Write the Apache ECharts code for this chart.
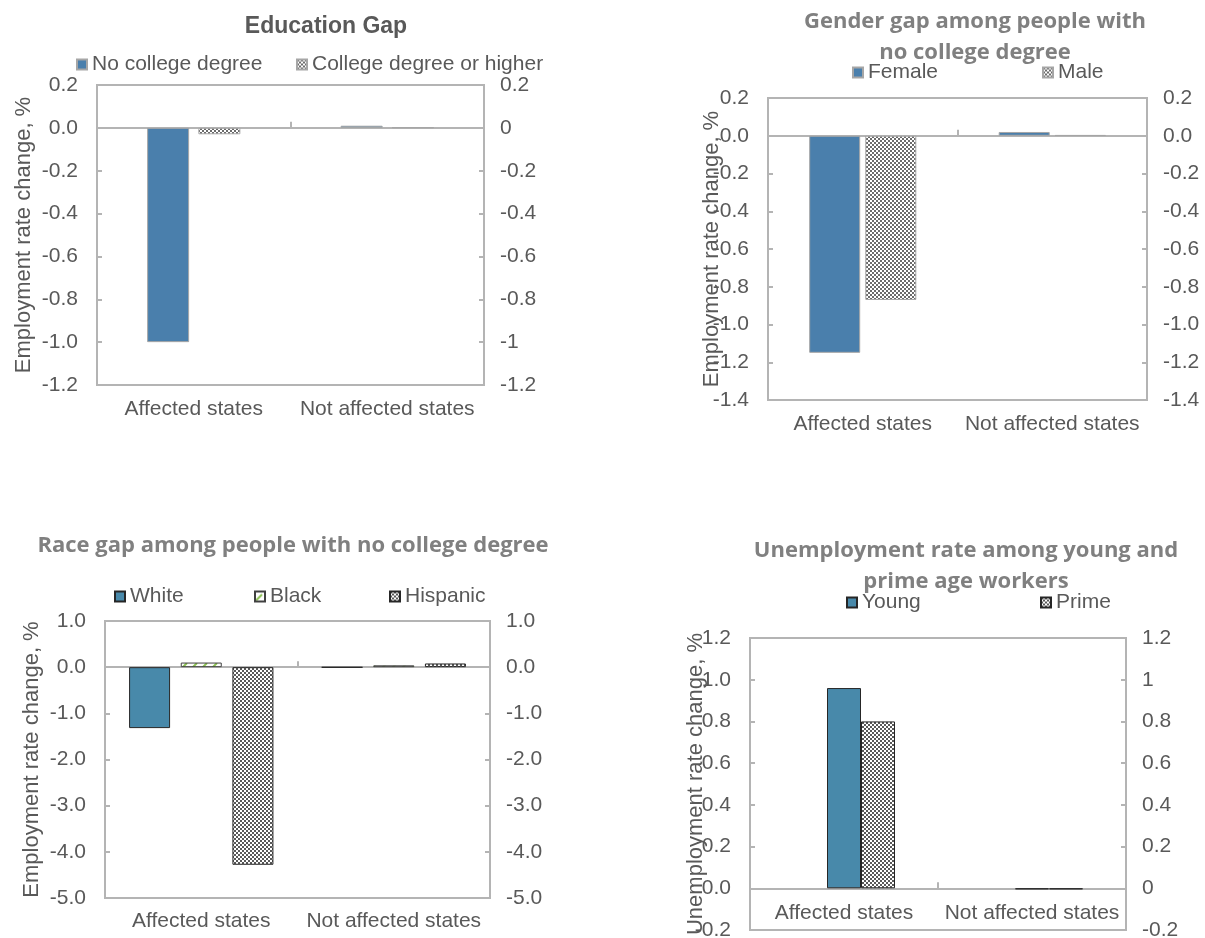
<!DOCTYPE html>
<html>
<head>
<meta charset="utf-8">
<script src="https://cdn.jsdelivr.net/npm/echarts@6/dist/echarts.min.js"></script>
<style>
  html, body { margin: 0; padding: 0; background: #ffffff; }
  #chart { width: 1205px; height: 938px; }
</style>
</head>
<body>
<div id="chart"></div>
<script>
// ---- data ----
const categories = ['Affected states', 'Not affected states'];

// Education gap: employment rate change, %
const noCollege = [-1.0, 0.01];
const collegePlus = [-0.03, 0.002];

// Gender gap among people with no college degree
const female = [-1.15, 0.02];
const male = [-0.87, 0.003];

// Race gap among people with no college degree
const white = [-1.32, -0.005];
const black = [0.1, 0.04];
const hispanic = [-4.28, 0.08];

// Unemployment rate change among young and prime age workers
const young = [0.96, -0.005];
const prime = [0.80, -0.005];

// value axis ranges: [min, max, interval]
const eduRange = [-1.2, 0.2, 0.2];
const genderRange = [-1.4, 0.2, 0.2];
const raceRange = [-5, 1, 1];
const unempRange = [-0.2, 1.2, 0.2];

// ---- styling helpers ----
const TEXT = '#595959';
const FRAME = '#b4b4b4';
const FONT = 'Liberation Sans';
const FS = 21;
const BLUE = '#4a7fac';
const TEAL = '#4889aa';

function checker(fg) {
  const c = document.createElement('canvas');
  c.width = 4; c.height = 4;
  const g = c.getContext('2d');
  g.fillStyle = '#ffffff'; g.fillRect(0, 0, 4, 4);
  g.fillStyle = fg;
  g.fillRect(0, 0, 2, 2); g.fillRect(2, 2, 2, 2);
  return { image: c, repeat: 'repeat' };
}
function diagonal(fg) {
  const s = 10;
  const c = document.createElement('canvas');
  c.width = s; c.height = s;
  const g = c.getContext('2d');
  g.fillStyle = '#ffffff'; g.fillRect(0, 0, s, s);
  g.strokeStyle = fg; g.lineWidth = 2;
  g.beginPath();
  g.moveTo(1, s - 1); g.lineTo(s - 3, 3);
  g.stroke();
  return { image: c, repeat: 'repeat' };
}

const fix1 = v => v.toFixed(1);
const plain = v => String(Math.round(v * 10) / 10);

function yPair(grid, range, leftFmt, rightFmt, name, nameGap) {
  const base = {
    type: 'value', gridIndex: grid,
    min: range[0], max: range[1], interval: range[2],
    axisLine: { show: false },
    axisTick: { show: true, inside: true, length: 5, lineStyle: { color: FRAME, width: 2 } },
    splitLine: { show: false }
  };
  return [
    Object.assign({}, base, {
      position: 'left',
      axisLabel: { formatter: leftFmt, margin: 19, color: TEXT, fontSize: FS, fontFamily: FONT },
      name: name, nameLocation: 'middle', nameGap: nameGap, nameRotate: 90,
      nameMoveOverlap: false,
      nameTextStyle: { color: TEXT, fontSize: 22, fontFamily: FONT }
    }),
    Object.assign({}, base, {
      position: 'right',
      axisLabel: { formatter: rightFmt, margin: 16, color: TEXT, fontSize: FS, fontFamily: FONT }
    })
  ];
}

// category axis drawn along the zero value (line + middle tick only)
function zeroAxis(grid, yIndex) {
  return {
    type: 'category', gridIndex: grid, data: categories, position: 'bottom',
    axisLine: { show: true, onZero: true, onZeroAxisIndex: yIndex, lineStyle: { color: FRAME, width: 2 } },
    axisTick: { show: true, inside: true, length: 6, lineStyle: { color: FRAME, width: 2 } },
    axisLabel: { show: false },
    splitLine: { show: false }
  };
}
// category labels only, optionally lifted up by `offset` pixels
function labelAxis(grid, margin, offset) {
  return {
    type: 'category', gridIndex: grid, data: categories, position: 'bottom',
    offset: offset || 0,
    axisLine: { show: false, onZero: false },
    axisTick: { show: false },
    axisLabel: { interval: 0, hideOverlap: false, margin: margin, color: TEXT, fontSize: FS, fontFamily: FONT },
    splitLine: { show: false }
  };
}

function bar(name, data, xi, yi, color, border, width, gap) {
  return {
    type: 'bar', name: name, data: data, xAxisIndex: xi, yAxisIndex: yi,
    barWidth: width, barGap: gap,
    itemStyle: { color: color, borderColor: border, borderWidth: 1 },
    emphasis: { disabled: true }
  };
}

function legendItem(name, left, top) {
  return {
    data: [name], left: left, top: top, padding: 0,
    icon: 'rect', itemWidth: 10, itemHeight: 10,
    textStyle: { color: TEXT, fontSize: FS, fontFamily: FONT }
  };
}

const grids = [
  [97, 85, 387, 300],
  [768, 98, 379, 302],
  [105, 621, 385, 277],
  [750, 638, 376, 292]
];
function plotGrid(g) {
  return {
    left: g[0], top: g[1], width: g[2], height: g[3],
    outerBoundsMode: 'none',
    show: true, borderColor: FRAME, borderWidth: 2, backgroundColor: '#ffffff'
  };
}
// distance of the zero line above the bottom of a plot
function zeroLift(g, range) {
  return -g[3] * (0 - range[0]) / (range[1] - range[0]);
}

const subTitle = { color: '#808080', fontSize: 22, fontWeight: 'bold', fontFamily: 'Open Sans', lineHeight: 31 };

const option = {
  animation: false,
  backgroundColor: '#ffffff',
  title: [
    { text: 'Education Gap', left: 326, top: 15, textAlign: 'center', padding: 0,
      textStyle: { color: TEXT, fontSize: 23, fontWeight: 'bold', fontFamily: FONT, lineHeight: 24 } },
    { text: 'Gender gap among people with\nno college degree', left: 975, top: 6, textAlign: 'center', padding: 0, textStyle: subTitle },
    { text: 'Race gap among people with no college degree', left: 293, top: 530, textAlign: 'center', padding: 0, textStyle: subTitle },
    { text: 'Unemployment rate among young and\nprime age workers', left: 966, top: 535, textAlign: 'center', padding: 0, textStyle: subTitle }
  ],
  legend: [
    legendItem('No college degree', 76, 54),
    legendItem('College degree or higher', 296, 54),
    legendItem('Female', 852, 62),
    legendItem('Male', 1042, 62),
    legendItem('White', 114, 586),
    legendItem('Black', 254, 586),
    legendItem('Hispanic', 389, 586),
    legendItem('Young', 846, 592),
    legendItem('Prime', 1040, 592)
  ],
  grid: grids.map(plotGrid),
  xAxis: [
    zeroAxis(0, 0), labelAxis(0, 14),
    zeroAxis(1, 2), labelAxis(1, 14),
    zeroAxis(2, 4), labelAxis(2, 13),
    zeroAxis(3, 6), labelAxis(3, 14, zeroLift(grids[3], unempRange))
  ],
  yAxis: [].concat(
    yPair(0, eduRange, fix1, plain, 'Employment rate change, %', 62),
    yPair(1, genderRange, fix1, fix1, 'Employment rate change, %', 45),
    yPair(2, raceRange, fix1, fix1, 'Employment rate change, %', 62),
    yPair(3, unempRange, fix1, plain, 'Unemployment rate change, %', 43)
  ),
  series: [
    bar('No college degree', noCollege, 0, 0, BLUE, '#a6a6a6', 42, '22%'),
    bar('College degree or higher', collegePlus, 0, 0, checker('#6b6b6b'), '#a6a6a6', 42, '22%'),

    bar('Female', female, 2, 2, BLUE, '#a6a6a6', 51, '10%'),
    bar('Male', male, 2, 2, checker('#6b6b6b'), '#a6a6a6', 51, '10%'),

    bar('White', white, 4, 4, TEAL, '#262626', 41, '26%'),
    bar('Black', black, 4, 4, diagonal('#8cc152'), '#404040', 41, '26%'),
    bar('Hispanic', hispanic, 4, 4, checker('#595959'), '#262626', 41, '26%'),

    // empty leading slot keeps the pair in the right-hand part of each group
    bar('spacer', [null, null], 6, 6, 'transparent', 'transparent', 34, 0),
    bar('Young', young, 6, 6, TEAL, '#262626', 34, 0),
    bar('Prime', prime, 6, 6, checker('#595959'), '#262626', 34, 0)
  ]
};

const chart = echarts.init(document.getElementById('chart'), null, { renderer: 'canvas' });
chart.setOption(option);
</script>
</body>
</html>
